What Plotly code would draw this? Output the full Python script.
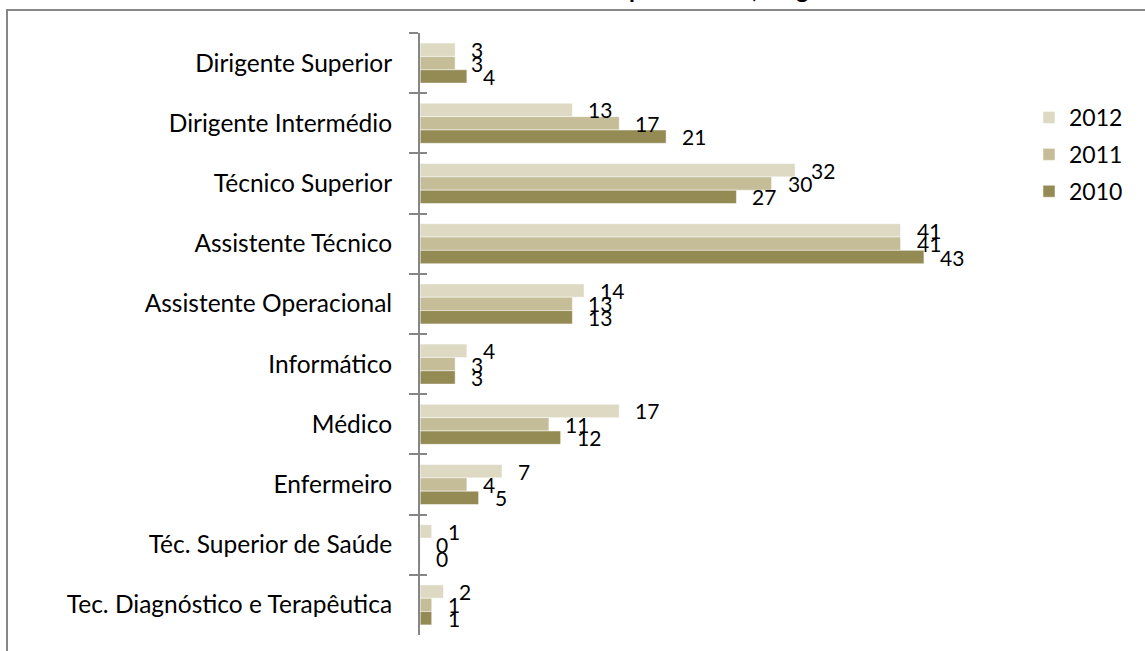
import plotly.graph_objects as go

# Staff counts per career group, 2010-2012
categories = [
    "Dirigente Superior",
    "Dirigente Intermédio",
    "Técnico Superior",
    "Assistente Técnico",
    "Assistente Operacional",
    "Informático",
    "Médico",
    "Enfermeiro",
    "Téc. Superior de Saúde",
    "Tec. Diagnóstico e Terapêutica",
]
years = ["2012", "2011", "2010"]
values_2012 = [3, 13, 32, 41, 14, 4, 17, 7, 1, 2]
values_2011 = [3, 17, 30, 41, 13, 3, 11, 4, 0, 1]
values_2010 = [4, 21, 27, 43, 13, 3, 12, 5, 0, 1]
series = [values_2012, values_2011, values_2010]
colors = ["#DDD9C3", "#C4BD97", "#948A54"]

FONT = "Lato"
W, H = 1145, 651
ML, MR, MT, MB = 420, 139, 33, 16
plot_w = W - ML - MR
plot_h = H - MT - MB
n_cat = len(categories)
bargap = 0.335
bar_px = plot_h / n_cat * (1 - bargap) / len(years)

fig = go.Figure()
for name, vals, col in zip(years, series, colors):
    fig.add_trace(go.Bar(
        y=categories, x=vals, name=name, orientation="h", legendgroup=name,
        marker=dict(color=col, line=dict(color="white", width=0.5)),
        hoverinfo="x+name",
    ))

# invisible trace so the secondary axis (inside half of the crossing ticks) is drawn
fig.add_trace(go.Bar(y=categories, x=[0] * n_cat, yaxis="y2", orientation="h",
                     showlegend=False, hoverinfo="skip", marker_color="rgba(0,0,0,0)"))

# value labels to the right of each bar
annotations = []
for i, vals in enumerate(series):
    yshift = (1 - i) * bar_px
    for cat, v in zip(categories, vals):
        annotations.append(dict(
            x=v, y=cat, xref="x", yref="y", text=str(v), showarrow=False,
            xanchor="left", yanchor="middle", xshift=14, yshift=yshift,
            font=dict(family=FONT, size=21, color="#000000"),
        ))

# chart title (upper part sits above the visible page)
annotations.append(dict(
    x=(725 - ML) / plot_w, y=(H - MB - 5) / plot_h, xref="paper", yref="paper",
    text="<b>por carreira, cargo</b>", showarrow=False,
    xanchor="center", yanchor="bottom",
    font=dict(family=FONT, size=24, color="#000000"),
))

fig.update_layout(
    width=W, height=H,
    margin=dict(l=ML, r=MR, t=MT, b=MB, pad=0),
    paper_bgcolor="white", plot_bgcolor="white",
    barmode="group", bargap=bargap, bargroupgap=0,
    xaxis=dict(range=[0, 50], visible=False, fixedrange=True),
    yaxis=dict(
        type="category", categoryorder="array", categoryarray=categories,
        autorange="reversed", showline=True, linecolor="#868686", linewidth=2,
        ticks="outside", tickson="boundaries", ticklen=9, tickwidth=1.5,
        tickcolor="#868686", showgrid=False, zeroline=False,
        ticklabelstandoff=21,
        tickfont=dict(family=FONT, size=24.5, color="#000000"),
    ),
    yaxis2=dict(
        type="category", categoryorder="array", categoryarray=categories,
        autorange="reversed", overlaying="y", side="left",
        ticks="inside", tickson="boundaries", ticklen=7, tickwidth=1.5,
        tickcolor="#868686", showticklabels=False, showline=False,
        showgrid=False, zeroline=False,
    ),
    legend=dict(
        x=(1029 - ML) / plot_w, y=(H - MB - 96) / plot_h,
        xanchor="left", yanchor="top", traceorder="grouped",
        tracegroupgap=4,
        font=dict(family=FONT, size=23, color="#000000"),
        bgcolor="rgba(0,0,0,0)",
    ),
    annotations=annotations,
    shapes=[
        # chart frame (extends past the right and bottom of the page)
        dict(type="rect", xref="paper", yref="paper",
             x0=(7 - ML) / plot_w, x1=2.0,
             y0=-0.5, y1=(H - MB - 10) / plot_h,
             line=dict(color="#868686", width=2), layer="below"),
    ],
    showlegend=True,
)

fig.write_html("out.html")
